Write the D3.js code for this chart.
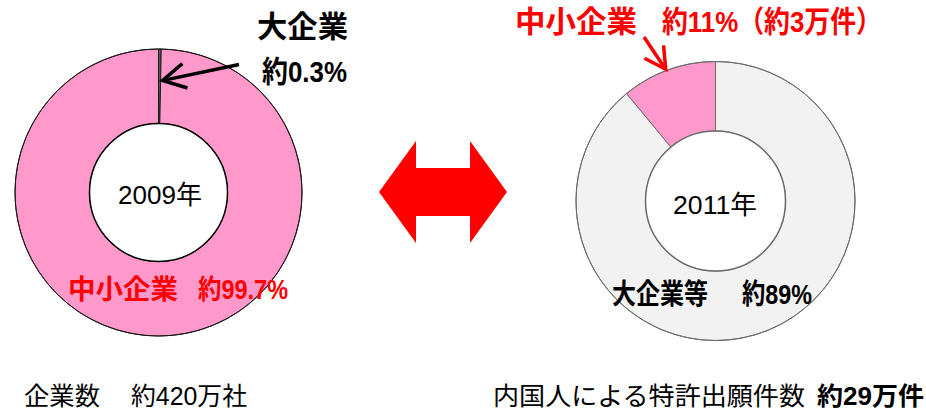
<!DOCTYPE html>
<html lang="ja">
<head>
<meta charset="utf-8">
<script src="https://cdn.jsdelivr.net/npm/d3@7"></script>
<style>
  html, body { margin: 0; padding: 0; background: #fff; }
  svg { display: block; }
  text { font-family: "Liberation Sans", "Noto Sans CJK JP", sans-serif; }
</style>
</head>
<body>
<svg id="chart" width="926" height="411"></svg>
<script>
// Company counts (2009): share by company size, in percent
const firmYear = "2009年";
const firmCategories = ["大企業", "中小企業"];
const firmShares = [0.3, 99.7];
const firmColors = ["#595959", "#ff99cc"];
const firmTotalLabel = "企業数";
const firmTotalValue = "約420万社";

// Domestic patent applications (2011): share by applicant size, in percent
const patentYear = "2011年";
const patentCategories = ["大企業等", "中小企業"];
const patentShares = [89, 11];
const patentColors = ["#f2f2f2", "#ff99cc"];
const patentSmeCount = "約3万件";
const patentTotalLabel = "内国人による特許出願件数";
const patentTotalValue = "約29万件";

const svg = d3.select("#chart");

const pie = d3.pie().sort(null).value(d => d.value);

function donut(cx, cy, rOuter, rInner, cats, vals, colors, stroke, innerStroke) {
  const data = cats.map((c, i) => ({ name: c, value: vals[i], color: colors[i] }));
  const arcs = pie(data);
  const arc = d3.arc().innerRadius(rInner).outerRadius(rOuter);
  const g = svg.append("g").attr("transform", `translate(${cx},${cy})`);
  g.selectAll("path").data(arcs).join("path")
    .attr("d", arc)
    .attr("fill", d => d.data.color)
    .attr("stroke", stroke)
    .attr("stroke-width", 1);
  g.append("circle").attr("r", rOuter).attr("fill", "none").attr("stroke", stroke).attr("stroke-width", 1);
  g.append("circle").attr("r", rInner).attr("fill", "#fff").attr("stroke", innerStroke).attr("stroke-width", 1.5);
  return { arcs, cx, cy, rOuter, rInner };
}

// point on a slice at its mid angle and a given radius
function slicePoint(d, info, r) {
  const a = (d.startAngle + d.endAngle) / 2;
  return [info.cx + r * Math.sin(a), info.cy - r * Math.cos(a)];
}

function label(str, x, y, size, width, opts = {}) {
  svg.append("text")
    .attr("x", x).attr("y", y)
    .attr("font-size", size)
    .attr("font-weight", opts.bold ? "bold" : "normal")
    .attr("fill", opts.color || "#000")
    .attr("textLength", width)
    .attr("lengthAdjust", "spacingAndGlyphs")
    .text(str);
}

// open chevron arrow from (x1,y1) to tip (x2,y2)
function arrow(x1, y1, x2, y2, color, headLen, width) {
  const ang = Math.atan2(y2 - y1, x2 - x1);
  const spread = 0.5;
  const p1 = [x2 - headLen * Math.cos(ang - spread), y2 - headLen * Math.sin(ang - spread)];
  const p2 = [x2 - headLen * Math.cos(ang + spread), y2 - headLen * Math.sin(ang + spread)];
  svg.append("line").attr("x1", x1).attr("y1", y1).attr("x2", x2 - 2 * Math.cos(ang)).attr("y2", y2 - 2 * Math.sin(ang))
    .attr("stroke", color).attr("stroke-width", width);
  svg.append("path")
    .attr("d", `M${p1[0]},${p1[1]}L${x2},${y2}L${p2[0]},${p2[1]}`)
    .attr("fill", "none").attr("stroke", color).attr("stroke-width", width)
    .attr("stroke-linejoin", "miter").attr("stroke-linecap", "butt");
}

// ---- left donut: company counts
const left = donut(158.5, 192.5, 143.5, 69, firmCategories, firmShares, firmColors, "#1a1a1a", "#000");

label(firmYear, 118, 204, 26, 84);
label(firmCategories[0], 257, 37, 30, 91, { bold: true });
label(`約${firmShares[0]}%`, 262, 82, 30, 85, { bold: true });
label(firmCategories[1], 68, 299, 27, 110, { bold: true, color: "#ff0000" });
label(`約${firmShares[1]}%`, 198, 299, 27, 90, { bold: true, color: "#ff0000" });
const bigTip = slicePoint(left.arcs[0], left, 112);
arrow(239, 64.5, bigTip[0] + 3, bigTip[1], "#000", 26, 3.5);

label(firmTotalLabel, 24, 405, 25, 76);
label(firmTotalValue, 131, 405, 25, 116);

// ---- right donut: patent applications
const right = donut(715.5, 201, 139.5, 70, patentCategories, patentShares, patentColors, "#6b6b6b", "#6b6b6b");

label(patentYear, 673, 214, 26, 84);
label(patentCategories[1], 515, 32, 30, 122, { bold: true, color: "#ff0000" });
label(`約${patentShares[1]}%（${patentSmeCount}）`, 662, 32, 30, 220, { bold: true, color: "#ff0000" });
const smeTip = slicePoint(right.arcs[1], right, 141);
arrow(644, 37, smeTip[0] - 2, smeTip[1] + 1, "#ff0000", 24, 3.5);
label(patentCategories[0], 612, 304, 28, 96, { bold: true });
label(`約${patentShares[0]}%`, 742, 304, 28, 70, { bold: true });

label(patentTotalLabel, 493, 405, 25, 312);
label(patentTotalValue, 817, 405, 25, 107, { bold: true });

// ---- double-headed comparison arrow
const ax = 443, ay = 192;
const tipHalf = 64, baseHalf = 27, headH = 51, shaftH = 24;
svg.append("path")
  .attr("d", d3.line()([
    [ax - tipHalf, ay],
    [ax - baseHalf, ay - headH],
    [ax - baseHalf, ay - shaftH],
    [ax + baseHalf, ay - shaftH],
    [ax + baseHalf, ay - headH],
    [ax + tipHalf, ay],
    [ax + baseHalf, ay + headH],
    [ax + baseHalf, ay + shaftH],
    [ax - baseHalf, ay + shaftH],
    [ax - baseHalf, ay + headH]
  ]) + "Z")
  .attr("fill", "#ff0000");
</script>
</body>
</html>
